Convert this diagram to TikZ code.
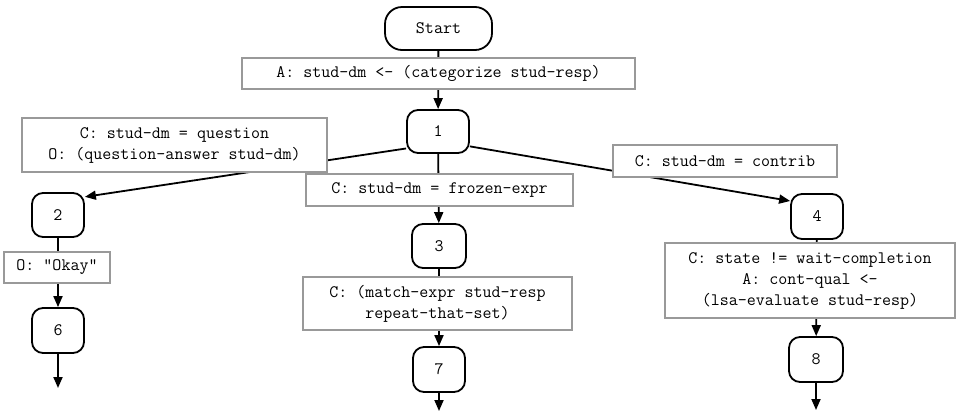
\documentclass[tikz,border=0pt]{standalone}
\usepackage{fontspec}
\usetikzlibrary{arrows.meta}
\tikzset{
  state/.style={draw=black, line width=1.8pt, rounded corners=11pt, fill=white,
    font=\ttfamily\fontsize{17.5}{21}\selectfont, inner sep=0pt},
  startst/.style={state, rounded corners=17pt},
  lbl/.style={draw=black!40, line width=1.2pt, fill=white, align=center,
    font=\ttfamily\fontsize{17.5}{21}\selectfont, inner sep=0pt},
  edge/.style={line width=1.8pt, -{Triangle[length=11pt,width=9pt]}},
  plain/.style={line width=1.8pt}
}
\begin{document}
\begin{tikzpicture}[x=1pt,y=-1pt]
\useasboundingbox (0,0) rectangle (957,413);
% state nodes
\node[startst, minimum width=107pt, minimum height=43pt] (start) at (438.5,28.5) {Start};
\node[state, minimum width=62pt, minimum height=43pt] (n1) at (438,131.5) {1};
\node[state, minimum width=52pt, minimum height=44pt] (n2) at (58,215) {2};
\node[state, minimum width=54pt, minimum height=44pt] (n3) at (439,246) {3};
\node[state, minimum width=52pt, minimum height=45pt] (n4) at (817,216.5) {4};
\node[state, minimum width=52pt, minimum height=45pt] (n6) at (58,330.5) {6};
\node[state, minimum width=52pt, minimum height=45pt] (n7) at (439,369.5) {7};
\node[state, minimum width=54pt, minimum height=45pt] (n8) at (816,359.5) {8};
\coordinate (t6) at (58,388);
\coordinate (t7) at (439,411);
\coordinate (t8) at (816,410);
% connectors
\draw[edge] (start) -- (n1);
\draw[edge] (n1.208) -- (n2.34);
\draw[edge] (n1) -- (n3);
\draw[edge] (n1.335) -- (n4.150);
\draw[edge] (n2) -- (n6);
\draw[edge] (n3) -- (n7);
\draw[edge] (n4) -- (n8);
\draw[edge] (n6) -- (t6);
\draw[edge] (n7) -- (t7);
\draw[edge] (n8) -- (t8);
% labels
\node[lbl, minimum width=393pt, minimum height=31pt] (la) at (438.5,73.5) {A: stud-dm <- (categorize stud-resp)};
\node[lbl, minimum width=305pt, minimum height=54pt] (lq) at (174.5,145) {C: stud-dm = question\\O: (question-answer stud-dm)};
\node[lbl, minimum width=267pt, minimum height=32pt] (lf) at (439.5,190) {C: stud-dm = frozen-expr};
\node[lbl, minimum width=224pt, minimum height=32pt] (lc) at (725,161) {C: stud-dm = contrib};
\node[lbl, minimum width=106pt, minimum height=31pt] (lo) at (57,267.5) {O: "Okay"};
\node[lbl, minimum width=269pt, minimum height=53pt] (lm) at (437.5,303.5) {C: (match-expr stud-resp\\repeat-that-set)};
\node[lbl, minimum width=290pt, minimum height=75pt] (ls) at (810,280.5) {C: state != wait-completion\\A: cont-qual <-\\(lsa-evaluate stud-resp)};
\end{tikzpicture}
\end{document}
